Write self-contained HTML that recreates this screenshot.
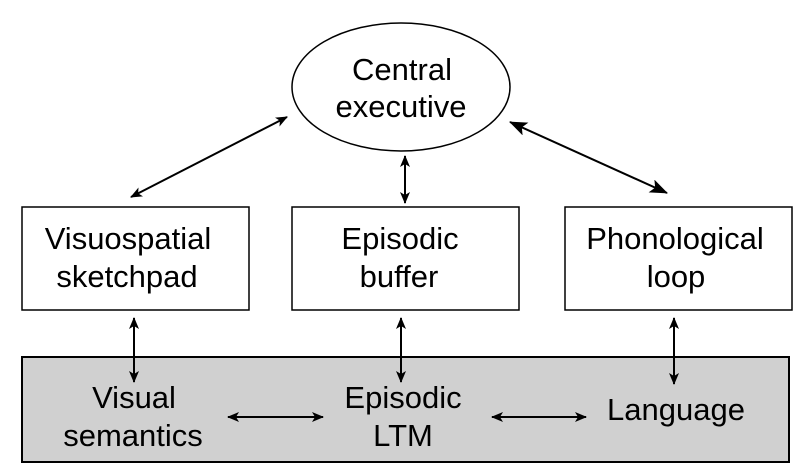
<!DOCTYPE html>
<html><head><meta charset="utf-8"><style>
html,body{margin:0;padding:0;background:#fff;}
svg{display:block;}
text{font-family:"Liberation Sans",Arial,sans-serif;font-size:31px;fill:#000;text-anchor:middle;}
</style></head><body>
<svg width="811" height="472" viewBox="0 0 811 472" xmlns="http://www.w3.org/2000/svg">
<defs>
<marker id="a" viewBox="0 0 12 10" refX="11" refY="5" markerWidth="12" markerHeight="10" markerUnits="userSpaceOnUse" orient="auto-start-reverse">
<path d="M0,0 L12,5 L0,10 L3,5 z" fill="#000"/>
</marker>
<marker id="b" viewBox="0 0 18 14" refX="17" refY="7" markerWidth="18" markerHeight="14" markerUnits="userSpaceOnUse" orient="auto-start-reverse">
<path d="M0,0 L18,7 L0,14 L4,7 z" fill="#000"/>
</marker>
</defs>
<rect x="22" y="357" width="767" height="105" fill="#d0d0d0" stroke="#000" stroke-width="2"/>
<ellipse cx="401" cy="87" rx="109" ry="64" fill="#fff" stroke="#000" stroke-width="1.5"/>
<rect x="22" y="207" width="227" height="103" fill="#fff" stroke="#000" stroke-width="1.5"/>
<rect x="292" y="207" width="227" height="103" fill="#fff" stroke="#000" stroke-width="1.5"/>
<rect x="565" y="207" width="227" height="103" fill="#fff" stroke="#000" stroke-width="1.5"/>
<text x="402" y="80">Central</text>
<text x="401" y="117">executive</text>
<text x="128" y="249">Visuospatial</text>
<text x="127" y="287">sketchpad</text>
<text x="400" y="249">Episodic</text>
<text x="399" y="287">buffer</text>
<text x="675" y="249">Phonological</text>
<text x="676" y="287">loop</text>
<text x="134" y="408">Visual</text>
<text x="133" y="446">semantics</text>
<text x="403" y="408">Episodic</text>
<text x="403" y="446">LTM</text>
<text x="676" y="420">Language</text>
<g stroke="#000" stroke-width="2" fill="none">
<line x1="131" y1="197" x2="287" y2="117" marker-start="url(#a)" marker-end="url(#a)"/>
<line x1="405" y1="156" x2="405" y2="203" marker-start="url(#a)" marker-end="url(#a)"/>
<line x1="510" y1="122" x2="667" y2="193" marker-start="url(#b)" marker-end="url(#b)"/>
<line x1="134" y1="318" x2="134" y2="382" marker-start="url(#a)" marker-end="url(#a)"/>
<line x1="401" y1="318" x2="401" y2="382" marker-start="url(#a)" marker-end="url(#a)"/>
<line x1="674" y1="318" x2="674" y2="384" marker-start="url(#a)" marker-end="url(#a)"/>
<line x1="228" y1="417" x2="323" y2="417" marker-start="url(#a)" marker-end="url(#a)"/>
<line x1="492" y1="417" x2="586" y2="417" marker-start="url(#a)" marker-end="url(#a)"/>
</g>
</svg>
</body></html>
